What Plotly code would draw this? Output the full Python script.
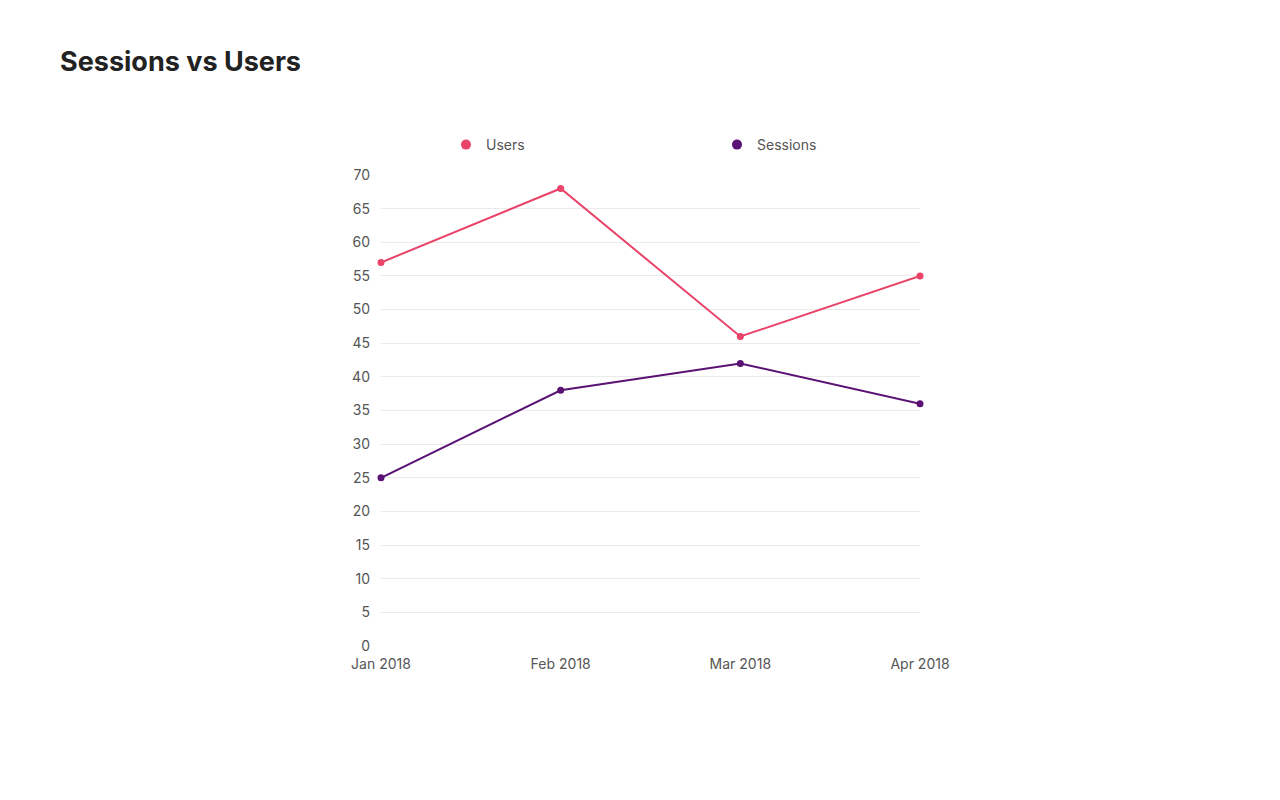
import plotly.graph_objects as go

months = ["Jan 2018", "Feb 2018", "Mar 2018", "Apr 2018"]
users = [57, 68, 46, 55]
sessions = [25, 38, 42, 36]
y_ticks = list(range(0, 75, 5))

users_color = "#E9436A"
sessions_color = "#5A1374"

fig = go.Figure()

fig.add_trace(go.Scatter(
    x=months, y=users, mode="lines+markers", name="Users",
    line=dict(color=users_color, width=2),
    marker=dict(color=users_color, size=7),
    cliponaxis=False, showlegend=False,
))
fig.add_trace(go.Scatter(
    x=months, y=sessions, mode="lines+markers", name="Sessions",
    line=dict(color=sessions_color, width=2),
    marker=dict(color=sessions_color, size=7),
    cliponaxis=False, showlegend=False,
))

# legend shows dots only, one legend box per entry so they sit far apart
fig.add_trace(go.Scatter(
    x=[None], y=[None], mode="markers", name="Users",
    marker=dict(color=users_color, size=10), legend="legend",
))
fig.add_trace(go.Scatter(
    x=[None], y=[None], mode="markers", name="Sessions",
    marker=dict(color=sessions_color, size=10), legend="legend2",
))

legend_style = dict(
    orientation="h", xanchor="left", xref="container",
    y=1 - 137 / 800, yanchor="middle", yref="container",
    font=dict(size=14, color="#555555"), bgcolor="rgba(0,0,0,0)",
)

fig.update_layout(
    width=1280, height=800,
    paper_bgcolor="white", plot_bgcolor="white",
    margin=dict(l=373, r=368, t=167, b=162, autoexpand=False),
    font=dict(family="Inter, Roboto, sans-serif", size=14, color="#555555"),
    title=dict(
        text="<b>Sessions vs Users</b>",
        x=52 / 1280, xanchor="left", xref="container",
        y=1 - 54 / 800, yanchor="middle", yref="container",
        font=dict(family="Inter, sans-serif", size=27, color="#222222"),
    ),
    legend=dict(x=438 / 1280, **legend_style),
    legend2=dict(x=709 / 1280, **legend_style),
    xaxis=dict(
        type="category", range=[0, 3], showgrid=False, showline=False,
        zeroline=False, ticks="", ticklabelstandoff=8,
        tickfont=dict(size=14, color="#555555"),
    ),
    yaxis=dict(
        range=[0, 70], tickvals=y_ticks, showgrid=True, gridcolor="#ebebeb",
        gridwidth=1, zeroline=False, showline=False, ticks="",
        ticklabelstandoff=10, tickfont=dict(size=14, color="#555555"),
    ),
)

fig.write_html("out.html")
